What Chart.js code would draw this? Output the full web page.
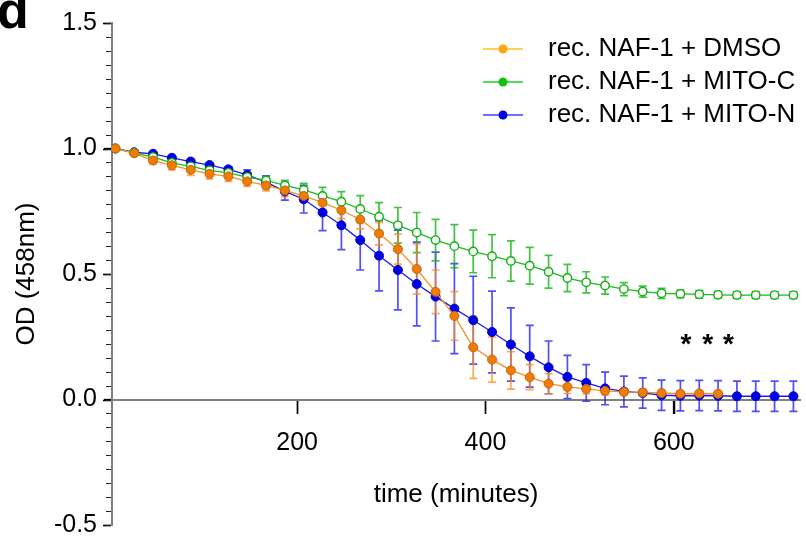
<!DOCTYPE html>
<html>
<head>
<meta charset="utf-8">
<title>OD 458nm</title>
<script src="https://cdn.jsdelivr.net/npm/chart.js@4.4.1/dist/chart.umd.min.js"></script>
<style>
  html, body { margin: 0; padding: 0; background: #fff; }
</style>
</head>
<body>
<canvas id="odChart" width="806" height="537"></canvas>
<script>
// time points (minutes)
const times = [7, 27, 47, 67, 87, 107, 127, 147, 167, 187, 207, 227, 247, 267, 287, 307, 327, 347, 367,
  387, 407, 427, 447, 467, 487, 507, 527, 547, 567, 587, 607, 627, 647, 667, 687, 707, 727];

const seriesNames = ['rec. NAF-1 + DMSO', 'rec. NAF-1 + MITO-C', 'rec. NAF-1 + MITO-N'];

// DMSO stops at 647 min
const dmso = [1.0, 0.981, 0.952, 0.933, 0.915, 0.899, 0.889, 0.869, 0.853, 0.833, 0.811, 0.784, 0.754,
  0.717, 0.661, 0.599, 0.520, 0.429, 0.333, 0.208, 0.159, 0.116, 0.089, 0.063, 0.050, 0.042, 0.034,
  0.030, 0.028, 0.026, 0.023, 0.024, 0.023];
const dmsoErr = [0, 0.005, 0.012, 0.018, 0.022, 0.02, 0.02, 0.02, 0.022, 0.025, 0.025, 0.028, 0.033,
  0.037, 0.045, 0.06, 0.1, 0.087, 0.097, 0.124, 0.09, 0.075, 0.05, 0.04, 0.026, 0.02, 0.016,
  0.012, 0.012, 0.01, 0.01, 0.01, 0.01];

const mitoC = [1.0, 0.983, 0.966, 0.943, 0.929, 0.913, 0.903, 0.886, 0.873, 0.853, 0.835, 0.811, 0.788,
  0.759, 0.728, 0.694, 0.665, 0.635, 0.611, 0.590, 0.571, 0.552, 0.533, 0.509, 0.484, 0.467, 0.454,
  0.440, 0.430, 0.423, 0.421, 0.419, 0.417, 0.416, 0.416, 0.416, 0.416];
const mitoCErr = [0, 0.004, 0.006, 0.008, 0.008, 0.008, 0.008, 0.01, 0.015, 0.02, 0.026, 0.034, 0.04,
  0.053, 0.056, 0.071, 0.08, 0.083, 0.086, 0.085, 0.086, 0.08, 0.073, 0.065, 0.054, 0.042, 0.034,
  0.026, 0.022, 0.02, 0.015, 0.015, 0.013, 0.013, 0.013, 0.013, 0.013];

const mitoN = [1.0, 0.985, 0.979, 0.963, 0.948, 0.934, 0.917, 0.895, 0.866, 0.829, 0.798, 0.745, 0.694,
  0.635, 0.573, 0.516, 0.460, 0.410, 0.362, 0.316, 0.269, 0.219, 0.172, 0.128, 0.090, 0.066, 0.044,
  0.032, 0.026, 0.017, 0.015, 0.016, 0.015, 0.013, 0.013, 0.013, 0.013];
const mitoNErr = [0, 0.004, 0.005, 0.006, 0.006, 0.008, 0.01, 0.02, 0.025, 0.035, 0.055, 0.072, 0.097,
  0.119, 0.14, 0.159, 0.167, 0.177, 0.179, 0.175, 0.163, 0.146, 0.123, 0.105, 0.086, 0.073, 0.065,
  0.061, 0.06, 0.06, 0.06, 0.06, 0.06, 0.06, 0.06, 0.06, 0.06];

const xMin = 3.4;
const xMax = 734;
const xTicks = [200, 400, 600];
const yTicks = [-0.5, 0, 0.5, 1.0, 1.5];
// minor ticks: 9 intervals between labelled values
const yMinorTicks = [];
for (let k = 0; k <= 36; k++) yMinorTicks.push(-0.5 + k * 0.5 / 9);

// significance marks
const starX = [613, 636, 658];
const starY = 0.24;

const FONT = "'Liberation Sans', Arial, Helvetica, sans-serif";
Chart.defaults.font.family = FONT;
Chart.defaults.color = '#000';

function pts(vals) {
  return vals.map((v, i) => ({ x: times[i], y: v }));
}

const errs = [dmsoErr, mitoCErr, mitoNErr];
const errColors = ['rgba(255,140,20,0.75)', 'rgba(20,180,20,0.8)', 'rgba(20,20,245,0.75)'];

const errorBars = {
  id: 'errorBars',
  beforeDatasetsDraw(chart) {
    const { ctx, scales: { x, y } } = chart;
    ctx.save();
    ctx.lineWidth = 1.7;
    for (let di = chart.data.datasets.length - 1; di >= 0; di--) {
      const ds = chart.data.datasets[di];
      ctx.strokeStyle = errColors[di];
      ds.data.forEach((p, i) => {
        const e = errs[di][i];
        if (!e) return;
        const px = x.getPixelForValue(p.x);
        const top = y.getPixelForValue(p.y + e);
        const bot = y.getPixelForValue(p.y - e);
        ctx.beginPath();
        ctx.moveTo(px, top); ctx.lineTo(px, bot);
        ctx.moveTo(px - 4, top); ctx.lineTo(px + 4, top);
        ctx.moveTo(px - 4, bot); ctx.lineTo(px + 4, bot);
        ctx.stroke();
      });
    }
    ctx.restore();
  }
};

// tick marks, placed from the scales
const axisTicks = {
  id: 'axisTicks',
  afterDraw(chart) {
    const { ctx, chartArea, scales: { x, y } } = chart;
    const y0 = Math.round(y.getPixelForValue(0));
    const left = Math.round(chartArea.left);
    ctx.save();
    ctx.strokeStyle = '#000';
    ctx.lineWidth = 1.5;
    ctx.beginPath();
    xTicks.forEach(v => {
      const px = Math.round(x.getPixelForValue(v)) + 0.5;
      ctx.moveTo(px, y0 + 1); ctx.lineTo(px, y0 + 14);
    });
    yTicks.forEach(v => {
      const py = Math.round(y.getPixelForValue(v)) + 0.5;
      ctx.moveTo(left - 1, py); ctx.lineTo(left - 9, py);
    });
    ctx.stroke();
    ctx.strokeStyle = '#222';
    ctx.lineWidth = 1.2;
    ctx.beginPath();
    yMinorTicks.forEach(v => {
      const py = Math.round(y.getPixelForValue(v)) + 0.5;
      ctx.moveTo(left - 1, py); ctx.lineTo(left - 6, py);
    });
    ctx.stroke();
    ctx.restore();
  }
};

const legendColors = [
  { line: '#FFC020', dot: '#FFA510' },
  { line: '#22CC22', dot: '#11C011' },
  { line: '#6F6FFF', dot: '#0000DD' }
];
const legendRows = [49, 82, 115];

const extras = {
  id: 'extras',
  afterDraw(chart) {
    const { ctx, scales: { x, y } } = chart;
    ctx.save();
    // panel letter
    ctx.fillStyle = '#000';
    ctx.font = 'bold 52px ' + FONT;
    ctx.textBaseline = 'alphabetic';
    ctx.textAlign = 'left';
    ctx.fillText('d', -3, 28);

    // legend
    ctx.font = '26px ' + FONT;
    ctx.textBaseline = 'middle';
    seriesNames.forEach((name, i) => {
      const yy = legendRows[i];
      ctx.strokeStyle = legendColors[i].line;
      ctx.lineWidth = i === 2 ? 2 : 1.5;
      ctx.beginPath();
      ctx.moveTo(483, yy); ctx.lineTo(523, yy);
      ctx.stroke();
      ctx.fillStyle = legendColors[i].dot;
      ctx.beginPath();
      ctx.arc(503, yy, 4.5, 0, Math.PI * 2);
      ctx.fill();
      ctx.fillStyle = '#000';
      ctx.fillText(name, 548, yy);
    });

    // asterisks
    ctx.font = 'bold 28px ' + FONT;
    ctx.textAlign = 'center';
    starX.forEach(v => {
      ctx.fillText('*', x.getPixelForValue(v), y.getPixelForValue(starY) + 6);
    });
    ctx.restore();
  }
};

new Chart(document.getElementById('odChart'), {
  type: 'line',
  data: {
    datasets: [
      {
        label: seriesNames[0],
        data: pts(dmso),
        borderColor: '#F5901E',
        borderWidth: 1.3,
        pointBackgroundColor: '#F07D00',
        pointBorderColor: '#C0641E',
        pointBorderWidth: 1,
        pointRadius: 4.5
      },
      {
        label: seriesNames[1],
        data: pts(mitoC),
        borderColor: '#1DB91D',
        borderWidth: 1.3,
        pointBackgroundColor: '#ffffff',
        pointBorderColor: '#10B010',
        pointBorderWidth: 1.4,
        pointRadius: 4.2
      },
      {
        label: seriesNames[2],
        data: pts(mitoN),
        borderColor: '#1A1AF0',
        borderWidth: 1.3,
        pointBackgroundColor: '#0000E6',
        pointBorderColor: '#0000C8',
        pointBorderWidth: 1,
        pointRadius: 4.5
      }
    ]
  },
  options: {
    responsive: false,
    devicePixelRatio: 1,
    animation: false,
    layout: { padding: { left: 0, right: 6, top: 23, bottom: 12 } },
    plugins: {
      legend: { display: false },
      tooltip: { enabled: false }
    },
    scales: {
      x: {
        type: 'linear',
        min: xMin,
        max: xMax,
        position: { y: 0 },
        afterBuildTicks: axis => { axis.ticks = xTicks.map(v => ({ value: v })); },
        grid: { drawOnChartArea: false, tickLength: 13, tickColor: '#000', tickWidth: 1.3 },
        border: { color: '#808080', width: 2 },
        ticks: { font: { size: 25 }, color: '#000', padding: 16, maxRotation: 0 },
        title: {
          display: true, text: 'time (minutes)', color: '#000',
          font: { size: 26 }, padding: { top: 5, bottom: 0 }
        }
      },
      y: {
        type: 'linear',
        min: -0.5,
        max: 1.5,
        position: 'left',
        afterBuildTicks: axis => { axis.ticks = yTicks.map(v => ({ value: v })); },
        afterFit: s => { s.width = 112; },
        grid: { drawOnChartArea: false, tickLength: 8, tickColor: '#000', tickWidth: 1.3 },
        border: { color: '#808080', width: 2 },
        ticks: {
          font: { size: 25, lineHeight: 0.2 }, color: '#000', padding: 7,
          callback: v => v.toFixed(1)
        },
        title: {
          display: true, text: 'OD (458nm)', color: '#000',
          font: { size: 26 }, padding: { top: 11, bottom: 0 }
        }
      }
    }
  },
  plugins: [errorBars, axisTicks, extras]
});
</script>
</body>
</html>
